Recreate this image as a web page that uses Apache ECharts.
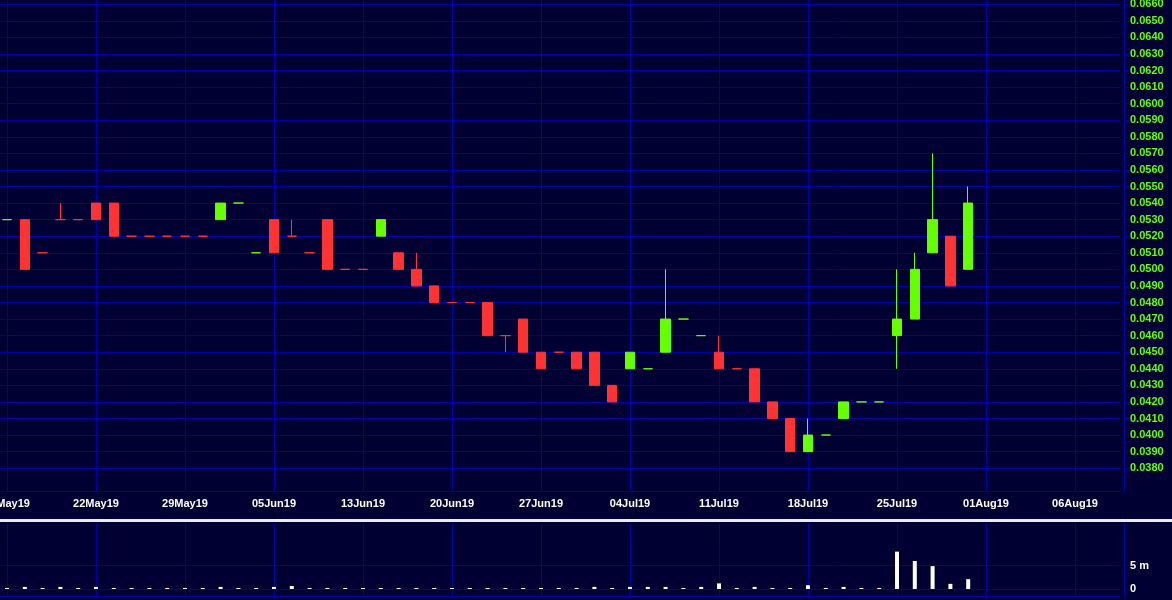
<!DOCTYPE html>
<html><head><meta charset="utf-8">
<script src="https://cdn.jsdelivr.net/npm/echarts@6/dist/echarts.min.js"></script>
<style>html,body{margin:0;padding:0;background:#000033;}#c{width:1172px;height:600px;}</style>
</head><body><div id="c"></div>
<script>
// ---- data ----
const dates = ['15May19','16May19','17May19','20May19','21May19','22May19','23May19','24May19','27May19','28May19',
  '29May19','30May19','31May19','03Jun19','04Jun19','05Jun19','06Jun19','07Jun19','10Jun19','11Jun19',
  '13Jun19','14Jun19','17Jun19','18Jun19','19Jun19','20Jun19','21Jun19','24Jun19','25Jun19','26Jun19',
  '27Jun19','28Jun19','01Jul19','02Jul19','03Jul19','04Jul19','05Jul19','08Jul19','09Jul19','10Jul19',
  '11Jul19','12Jul19','15Jul19','16Jul19','17Jul19','18Jul19','19Jul19','22Jul19','23Jul19','24Jul19',
  '25Jul19','26Jul19','29Jul19','30Jul19','31Jul19','01Aug19','02Aug19','03Aug19','04Aug19','05Aug19',
  '06Aug19','07Aug19','08Aug19'];
const opens  = [0.053,0.053,0.051,0.053,0.053,0.054,0.054,0.052,0.052,0.052,0.052,0.052,0.053,0.054,0.051,0.053,0.052,0.051,0.053,0.050,
  0.050,0.052,0.051,0.050,0.049,0.048,0.048,0.048,0.046,0.047,0.045,0.045,0.045,0.045,0.043,0.044,0.044,0.045,0.047,0.046,
  0.045,0.044,0.044,0.042,0.041,0.039,0.040,0.041,0.042,0.042,0.046,0.047,0.051,0.052,0.050];
const closes = [0.053,0.050,0.051,0.053,0.053,0.053,0.052,0.052,0.052,0.052,0.052,0.052,0.054,0.054,0.051,0.051,0.052,0.051,0.050,0.050,
  0.050,0.053,0.050,0.049,0.048,0.048,0.048,0.046,0.046,0.045,0.044,0.045,0.044,0.043,0.042,0.045,0.044,0.047,0.047,0.046,
  0.044,0.044,0.042,0.041,0.039,0.040,0.040,0.042,0.042,0.042,0.047,0.050,0.053,0.049,0.054];
const lows   = [0.053,0.050,0.051,0.053,0.053,0.053,0.052,0.052,0.052,0.052,0.052,0.052,0.053,0.054,0.051,0.051,0.052,0.051,0.050,0.050,
  0.050,0.052,0.050,0.049,0.048,0.048,0.048,0.046,0.045,0.045,0.044,0.045,0.044,0.043,0.042,0.044,0.044,0.045,0.047,0.046,
  0.044,0.044,0.042,0.041,0.039,0.039,0.040,0.041,0.042,0.042,0.044,0.047,0.051,0.049,0.050];
const highs  = [0.053,0.053,0.051,0.054,0.053,0.054,0.054,0.052,0.052,0.052,0.052,0.052,0.054,0.054,0.051,0.053,0.053,0.051,0.053,0.050,
  0.050,0.053,0.051,0.051,0.049,0.048,0.048,0.048,0.046,0.047,0.045,0.045,0.045,0.045,0.043,0.045,0.044,0.050,0.047,0.046,
  0.046,0.044,0.044,0.042,0.041,0.041,0.040,0.042,0.042,0.042,0.050,0.051,0.057,0.052,0.055];
const volumes = [0.22,0.45,0.22,0.45,0.22,0.45,0.22,0.22,0.22,0.22,0.22,0.22,0.45,0.22,0.22,0.45,0.65,0.22,0.22,0.22,
  0.22,0.22,0.22,0.22,0.22,0.22,0.22,0.22,0.22,0.22,0.22,0.22,0.22,0.45,0.22,0.45,0.45,0.45,0.22,0.45,
  1.2,0.22,0.45,0.22,0.22,0.8,0.22,0.45,0.22,0.22,8.0,6.0,4.9,1.1,2.1]; // millions
const priceTicks = ['0.0380','0.0390','0.0400','0.0410','0.0420','0.0430','0.0440','0.0450','0.0460','0.0470',
  '0.0480','0.0490','0.0500','0.0510','0.0520','0.0530','0.0540','0.0550','0.0560','0.0570',
  '0.0580','0.0590','0.0600','0.0610','0.0620','0.0630','0.0640','0.0650','0.0660'];
const volumeTicks = [0, 5];

// ---- styling ----
const BG = '#000033', BLUE = '#0000aa', UP = '#66ff00', DOWN = '#ff3333';
const FONT = {fontFamily: '"Liberation Sans", Arial, sans-serif', fontWeight: 'bold', fontSize: 11};

let prevDir = 1;
const candleItems = opens.map((o, i) => {
  const c = closes[i];
  const dir = c > o ? 1 : (c < o ? -1 : prevDir);
  prevDir = dir;
  const col = dir > 0 ? UP : DOWN;
  return {value: [o, c, lows[i], highs[i]],
    itemStyle: {color: col, color0: col, borderColor: col, borderColor0: col, borderColorDoji: col}};
});

const every5 = (idx) => idx % 5 === 0;
const BAND = 17.8;
const gridLeft = 7 - BAND / 2;
const gridWidth = BAND * dates.length;

const chart = echarts.init(document.getElementById('c'), null, {renderer: 'canvas'});
chart.setOption({
  backgroundColor: BG,
  animation: false,
  grid: [
    {left: gridLeft, top: 0, width: gridWidth, height: 491.7, containLabel: false, outerBoundsMode: 'none'},
    {left: gridLeft, top: 523.3, width: gridWidth, height: 73.4, containLabel: false, outerBoundsMode: 'none'}
  ],
  xAxis: [
    {type: 'category', gridIndex: 0, data: dates, boundaryGap: true,
     axisLine: {show: true, lineStyle: {color: BLUE, width: 1}},
     axisTick: {show: false},
     axisLabel: Object.assign({show: true, interval: every5, color: '#ffffff', margin: 7, hideOverlap: false}, FONT),
     splitLine: {show: true, interval: every5, alignWithLabel: true, lineStyle: {color: BLUE, width: 1}}},
    {type: 'category', gridIndex: 1, data: dates, boundaryGap: true, position: 'top',
     axisLine: {show: true, lineStyle: {color: BLUE, width: 1}},
     axisTick: {show: false}, axisLabel: {show: false},
     splitLine: {show: true, interval: every5, alignWithLabel: true, lineStyle: {color: BLUE, width: 1}}},
    {type: 'category', gridIndex: 1, data: dates, boundaryGap: true, position: 'bottom',
     axisLine: {show: true, lineStyle: {color: BLUE, width: 1}},
     axisTick: {show: false}, axisLabel: {show: false}, splitLine: {show: false}}
  ],
  yAxis: [
    {type: 'value', gridIndex: 0, position: 'right', offset: 4.5,
     min: 0.036582, max: 0.066253,
     axisLine: {show: true, lineStyle: {color: BLUE, width: 1}},
     axisTick: {show: true, length: 5, customValues: priceTicks.map(Number), lineStyle: {color: BLUE}},
     axisLabel: Object.assign({show: true, customValues: priceTicks.map(Number), color: UP, margin: 6,
       formatter: (v) => v.toFixed(4)}, FONT),
     splitLine: {show: true, lineStyle: {color: BLUE, width: 1}}},
    {type: 'value', gridIndex: 1, position: 'right', offset: 4.5,
     min: -1.65, max: 14.07,
     axisLine: {show: true, lineStyle: {color: BLUE, width: 1}},
     axisTick: {show: true, length: 5, customValues: volumeTicks, lineStyle: {color: BLUE}},
     axisLabel: Object.assign({show: true, customValues: volumeTicks, color: '#ffffff', margin: 6,
       formatter: (v) => v === 0 ? '0' : v + ' m'}, FONT),
     splitLine: {show: true, lineStyle: {color: ['rgba(0,0,0,0)', BLUE], width: 1}}}
  ],
  graphic: [
    {type: 'rect', left: 0, top: 519, shape: {width: 1172, height: 3}, style: {fill: '#ececec'}, silent: true}
  ],
  series: [
    {type: 'candlestick', xAxisIndex: 0, yAxisIndex: 0, barWidth: 10,
     itemStyle: {borderWidth: 1}, data: candleItems},
    {type: 'bar', xAxisIndex: 1, yAxisIndex: 1, barWidth: 4,
     itemStyle: {color: '#ffffff'}, data: volumes}
  ]
});
</script>
</body></html>
